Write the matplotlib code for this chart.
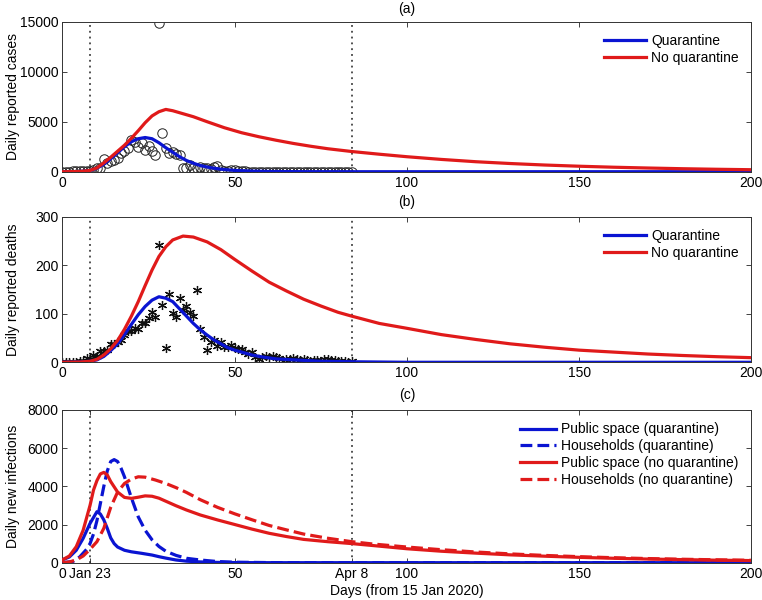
import numpy as np
import matplotlib
matplotlib.use("Agg")
import matplotlib.pyplot as plt

plt.rcParams['font.family'] = ['Liberation Sans', 'DejaVu Sans']

# ---------------- data ----------------
# observed daily reported cases (day 0 = 15 Jan 2020 ... day 84 = 8 Apr)
obs_cases = [0, 4, 17, 59, 77, 72, 105, 69, 105, 180, 323, 371, 1291, 840, 1032,
             1220, 1347, 1921, 2103, 2345, 3156, 2987, 2447, 2841, 2147, 2618, 2097,
             1638, 14840, 3900, 2420, 1843, 1933, 1807, 1693, 349, 411, 631, 366, 398,
             499, 401, 409, 318, 423, 570, 196, 114, 115, 134, 126, 74, 41, 36, 17, 13,
             8, 5, 4, 4, 4, 1, 1, 0, 0, 0, 0, 0, 0, 0, 0, 0, 0, 0, 0, 0, 0, 0, 0, 0, 0,
             0, 0, 0, 0]
# observed daily reported deaths
obs_deaths = [0, 0, 1, 0, 1, 2, 3, 8, 7, 15, 13, 24, 24, 25, 37, 37, 42, 45, 56, 64,
              65, 70, 69, 81, 81, 91, 103, 94, 242, 117, 30, 140, 101, 94, 133, 108,
              116, 104, 96, 149, 68, 52, 26, 41, 45, 34, 42, 31, 31, 36, 29, 28, 27, 21,
              17, 22, 10, 7, 10, 13, 10, 12, 11, 8, 3, 7, 6, 9, 7, 4, 6, 5, 3, 5, 5, 1,
              7, 6, 4, 4, 3, 2, 2, 0, 2]

# model: daily reported cases
cases_q_days = [0, 5, 8, 10, 12, 14, 16, 18, 20, 22, 24, 26, 28, 30, 32, 34, 36, 38,
                40, 43, 46, 50, 55, 60, 70, 84, 200]
cases_q_vals = [0, 20, 120, 350, 750, 1300, 1900, 2500, 3000, 3300, 3420, 3300, 2900,
                2400, 1950, 1500, 1120, 850, 620, 400, 250, 130, 60, 25, 5, 0, 0]
cases_nq_days = [0, 5, 8, 10, 12, 14, 16, 18, 20, 22, 24, 26, 28, 30, 32, 35, 38, 42,
                 47, 52, 57, 62, 67, 72, 77, 84, 92, 100, 110, 120, 130, 140, 150, 160,
                 170, 180, 190, 200]
cases_nq_vals = [0, 20, 130, 380, 880, 1450, 2050, 2650, 3350, 4100, 4900, 5580, 6000,
                 6230, 6100, 5800, 5500, 5000, 4400, 3900, 3500, 3150, 2830, 2550, 2300,
                 2020, 1750, 1500, 1230, 1000, 820, 670, 550, 450, 370, 300, 245, 200]

# model: daily reported deaths
deaths_q_days = [0, 5, 8, 10, 12, 14, 16, 18, 20, 22, 24, 26, 28, 30, 32, 34, 36, 38,
                 40, 42, 44, 46, 48, 50, 52, 55, 58, 62, 67, 75, 85, 100, 200]
deaths_q_vals = [0, 0.5, 2, 5, 12, 24, 38, 57, 78, 98, 115, 128, 135, 132, 125, 110, 95,
                 80, 67, 56, 46, 38, 30, 25, 21, 15, 11, 7, 5, 2, 1, 0, 0]
deaths_nq_days = [0, 5, 8, 10, 12, 14, 16, 18, 20, 22, 24, 26, 28, 30, 32, 35, 38, 42,
                  46, 50, 55, 60, 65, 70, 75, 80, 84, 92, 100, 110, 120, 130, 140, 150,
                  160, 170, 180, 190, 200]
deaths_nq_vals = [0, 0.5, 2, 6, 15, 28, 45, 68, 95, 125, 158, 190, 218, 238, 252, 260,
                  258, 248, 232, 212, 188, 165, 147, 130, 116, 103, 95, 80, 70, 57, 47,
                  38, 31, 25, 21, 17, 14, 11.5, 9.5]

# model: daily new infections
pub_q_days = [0, 2, 4, 6, 8, 10, 11, 12, 13, 14, 15, 16, 18, 20, 23, 26, 28, 30, 33,
              36, 40, 45, 50, 60, 200]
pub_q_vals = [150, 300, 650, 1275, 2060, 2670, 2550, 2240, 1800, 1300, 1000, 820, 650,
              570, 490, 400, 315, 240, 140, 80, 40, 15, 5, 0, 0]
hh_q_days = [0, 3, 5, 7, 8, 9, 10, 11, 12, 13, 14, 15, 16, 17, 18, 19, 20, 22, 24, 26,
             28, 30, 33, 36, 40, 45, 50, 60, 70, 200]
hh_q_vals = [0, 60, 300, 700, 1000, 1500, 2200, 3100, 4000, 4800, 5300, 5400, 5300,
             4950, 4500, 3950, 3400, 2400, 1700, 1200, 850, 600, 380, 230, 140, 60, 25,
             5, 0, 0]
pub_nq_days = [0, 2, 4, 6, 8, 9, 10, 11, 12, 13, 14, 16, 18, 20, 22, 24, 26, 28, 30, 33,
               36, 40, 45, 50, 55, 60, 65, 70, 77, 84, 90, 100, 110, 120, 130, 140, 150,
               160, 170, 180, 190, 200]
pub_nq_vals = [150, 350, 840, 1700, 3000, 3800, 4300, 4650, 4730, 4600, 4250, 3700, 3420,
               3370, 3430, 3500, 3480, 3380, 3220, 2980, 2760, 2500, 2240, 2000, 1760,
               1540, 1370, 1220, 1100, 1000, 900, 730, 600, 500, 410, 340, 280, 230, 190,
               160, 130, 110]
hh_nq_days = [0, 2, 4, 6, 8, 10, 12, 14, 16, 18, 20, 22, 24, 27, 30, 33, 36, 40, 45, 50,
              55, 60, 65, 70, 77, 84, 90, 100, 110, 120, 130, 140, 150, 160, 170, 180,
              190, 200]
hh_nq_vals = [0, 40, 140, 350, 700, 1100, 1800, 2900, 3700, 4150, 4380, 4500, 4480, 4330,
              4150, 3930, 3680, 3300, 2900, 2560, 2250, 1950, 1720, 1500, 1280, 1100, 980,
              820, 680, 560, 460, 380, 315, 260, 215, 180, 150, 125]

event_days = [8, 84]
ab_xticks = [0, 50, 100, 150, 200]
c_xticks = [0, 8, 50, 84, 100, 150, 200]
c_xticklabels = ['0', 'Jan 23', '50', 'Apr 8', '100', '150', '200']

BLUE = '#0a14d2'
RED = '#e01a1a'
FS = 10
LW = 2.3

fig = plt.figure(figsize=(7.62, 6.0), dpi=100)
L, W = 0.082, 0.904
ax_a = fig.add_axes([L, 0.7138, W, 0.250])
ax_b = fig.add_axes([L, 0.3962, W, 0.2427])
ax_c = fig.add_axes([L, 0.0622, W, 0.2545])

obs_days = np.arange(len(obs_cases))


def style(ax):
    ax.set_xlim(0, 200)
    ax.tick_params(direction='in', top=True, right=True, length=3.5, width=0.6,
                   labelsize=FS, pad=3, colors='#222222', labelcolor='black')
    for s in ax.spines.values():
        s.set_linewidth(0.7)
        s.set_color('#333333')
    for d in event_days:
        ax.axvline(d, color='#222222', lw=1.1, ls=(0, (1.2, 2.6)), zorder=1)


def legend(ax, hl):
    ax.legend(loc='upper right', frameon=False, fontsize=FS, handlelength=hl,
              handletextpad=0.4, labelspacing=0.2, borderaxespad=0.5)


# (a)
style(ax_a)
ax_a.plot(obs_days, obs_cases, 'o', mfc='none', mec='#222222', ms=6.8, mew=0.7, zorder=2)
ax_a.plot(cases_q_days, cases_q_vals, color=BLUE, lw=LW, label='Quarantine', zorder=3)
ax_a.plot(cases_nq_days, cases_nq_vals, color=RED, lw=LW, label='No quarantine', zorder=3)
ax_a.set_ylim(0, 15000)
ax_a.set_yticks([0, 5000, 10000, 15000])
ax_a.set_xticks(ab_xticks)
ax_a.set_ylabel('Daily reported cases', fontsize=FS)
ax_a.set_title('(a)', fontsize=FS, pad=6.5)
legend(ax_a, 3.0)

# (b)
style(ax_b)
ax_b.plot(obs_days, obs_deaths, linestyle='none', marker=(6, 2, 0), color='#111111',
          ms=6.5, mew=0.9, zorder=2)
ax_b.plot(deaths_q_days, deaths_q_vals, color=BLUE, lw=LW, label='Quarantine', zorder=3)
ax_b.plot(deaths_nq_days, deaths_nq_vals, color=RED, lw=LW, label='No quarantine', zorder=3)
ax_b.set_ylim(0, 300)
ax_b.set_yticks([0, 100, 200, 300])
ax_b.set_xticks(ab_xticks)
ax_b.set_ylabel('Daily reported deaths', fontsize=FS)
ax_b.set_title('(b)', fontsize=FS, pad=8)
legend(ax_b, 3.0)

# (c)
style(ax_c)
ax_c.plot(pub_q_days, pub_q_vals, color=BLUE, lw=LW, label='Public space (quarantine)', zorder=3)
ax_c.plot(hh_q_days, hh_q_vals, color=BLUE, lw=LW, ls='--', label='Households (quarantine)', zorder=3)
ax_c.plot(pub_nq_days, pub_nq_vals, color=RED, lw=LW, label='Public space (no quarantine)', zorder=3)
ax_c.plot(hh_nq_days, hh_nq_vals, color=RED, lw=LW, ls='--', label='Households (no quarantine)', zorder=3)
ax_c.set_ylim(0, 8000)
ax_c.set_yticks([0, 2000, 4000, 6000, 8000])
ax_c.set_xticks(c_xticks)
ax_c.set_xticklabels(c_xticklabels)
ax_c.set_ylabel('Daily new infections', fontsize=FS)
ax_c.set_xlabel('Days (from 15 Jan 2020)', fontsize=FS, labelpad=2)
ax_c.set_title('(c)', fontsize=FS, pad=8)
legend(ax_c, 2.6)

for ax in (ax_a, ax_b, ax_c):
    ax.yaxis.set_label_coords(-0.061, 0.5)

fig.savefig('out.png', dpi=100)
